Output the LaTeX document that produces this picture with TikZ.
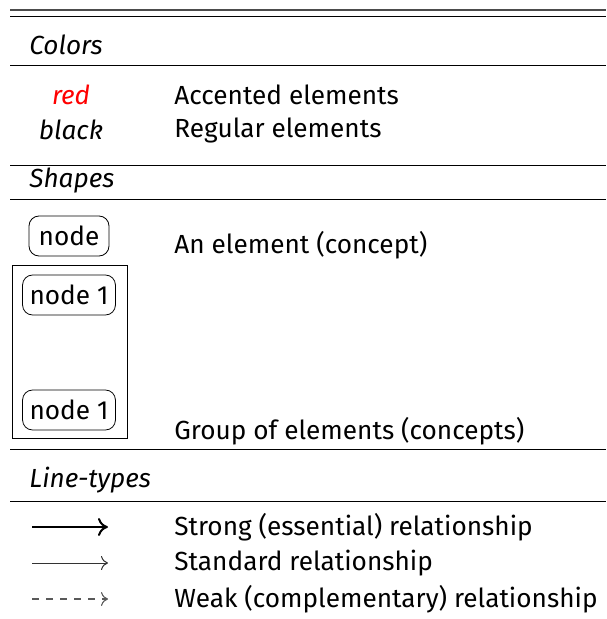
\documentclass[tikz,border=0pt]{standalone}
\usepackage{fontspec}
\setmainfont{Fira Sans}
\usetikzlibrary{positioning,arrows.meta}

\newcommand{\legsize}{\fontsize{13.1}{15}\selectfont}

\tikzset{cnode/.style = {shape = rectangle,
                         rounded corners = 5pt,
                         color = black,
                         inner xsep = 3.5pt,
                         inner ysep = 2pt,
                         minimum width = 40pt,
                         minimum height = 20pt,
                         draw},
         lbl/.style = {anchor = west, inner sep = 0pt},
         hdr/.style = {anchor = west, inner sep = 0pt, font = \legsize\itshape},
         rulel/.style = {line width = 0.5pt},
         strong/.style = {-{Computer Modern Rightarrow[length=5pt, width=9pt]}, line width = 1pt},
         standard/.style = {-{Computer Modern Rightarrow[length=3.5pt, width=7pt]}, line width = 0.5pt, black!80},
         weak/.style = {-{Computer Modern Rightarrow[length=3.5pt, width=7pt]}, dash pattern = on 3.5pt off 3.5pt,
                        line width = 0.55pt, black!65}}

\begin{document}
\begin{tikzpicture}[x=0.5pt, y=-0.5pt, font=\legsize]
		\useasboundingbox (0,0) rectangle (606,619);
		% rules
		\draw[line width=0.8pt, black!70] (10,10) -- (606,10);
		\draw[rulel] (10,17) -- (606,17);
		\draw[rulel] (10,66) -- (606,66);
		\draw[rulel] (10,166) -- (606,166);
		\draw[rulel] (10,200) -- (606,200);
		\draw[rulel] (10,449) -- (606,449);
		\draw[rulel] (10,501) -- (606,501);
		% colors
		\node[hdr] (colors) at (29,45) {Colors};
		\node[font=\legsize\itshape, red, inner sep=0pt] (red) at (71,95) {red};
		\node[font=\legsize\itshape, inner sep=0pt] (black) at (71,130) {black};
		\node[lbl] (accent) at (174,95) {Accented elements};
		\node[lbl] (regular) at (174,130) {Regular elements};
		% shapes
		\node[hdr] (shapes) at (29,181) {Shapes};
		\node[cnode] (n) at (69,236) {node};
		\node[cnode] (n1) at (69,295) {node 1};
		\node[cnode] (n2) at (69,410) {node 1};
		\draw (12,265) rectangle (127,438);
		\node[lbl] (elem) at (174,245) {An element (concept)};
		\node[lbl] (group) at (174,431) {Group of elements (concepts)};
		% line-types
		\node[hdr] (lines) at (29,480) {Line-types};
		\coordinate (s1) at (32,527);
		\coordinate (s2) at (108,527);
		\coordinate (t1) at (32,563);
		\coordinate (t2) at (108,563);
		\coordinate (w1) at (32,599);
		\coordinate (w2) at (108,599);
		\draw[strong] (s1) -- (s2);
		\draw[standard] (t1) -- (t2);
		\draw[weak] (w1) -- (w2);
		\node[lbl] (strongl) at (174,527) {Strong (essential) relationship};
		\node[lbl] (standl) at (174,563) {Standard relationship};
		\node[lbl] (weakl) at (174,599) {Weak (complementary) relationship};
	\end{tikzpicture}
\end{document}
